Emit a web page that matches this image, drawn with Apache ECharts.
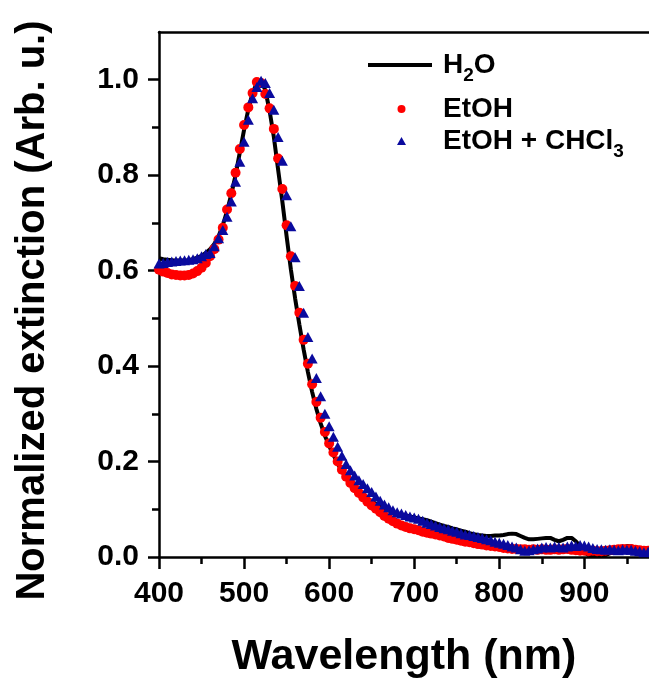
<!DOCTYPE html>
<html>
<head>
<meta charset="utf-8">
<script src="https://cdn.jsdelivr.net/npm/echarts@6/dist/echarts.min.js"></script>
<style>
html,body{margin:0;padding:0;background:#fff;}
#chart{width:649px;height:684px;}
</style>
</head>
<body>
<div id="chart"></div>
<script>
// Wavelength grid (nm)
var wavelength = [400,405,410,415,420,425,430,435,440,445,450,455,460,465,470,475,480,485,490,495,
500,505,510,515,520,525,530,535,540,545,550,555,560,565,570,575,580,585,590,595,
600,605,610,615,620,625,630,635,640,645,650,655,660,665,670,675,680,685,690,695,
700,705,710,715,720,725,730,735,740,745,750,755,760,765,770,775,780,785,790,795,
800,805,810,815,820,825,830,835,840,845,850,855,860,865,870,875,880,885,890,895,
900,905,910,915,920,925,930,935,940,945,950,955,960,965,970,975];

// H2O (black line)
var h2o = [0.626,0.624,0.623,0.622,0.621,0.621,0.621,0.622,0.624,0.627,0.631,0.637,0.645,0.656,0.672,0.695,0.725,0.760,0.800,0.848,
0.895,0.938,0.972,0.993,0.998,0.978,0.935,0.880,0.812,0.745,0.672,0.603,0.542,0.487,0.435,0.388,0.346,0.310,0.280,0.254,
0.233,0.214,0.196,0.180,0.167,0.156,0.146,0.138,0.130,0.123,0.117,0.111,0.105,0.101,0.097,0.094,0.091,0.089,0.087,0.085,
0.083,0.081,0.079,0.077,0.074,0.071,0.068,0.065,0.063,0.060,0.058,0.055,0.053,0.050,0.048,0.046,0.045,0.044,0.044,0.045,
0.045,0.046,0.048,0.049,0.048,0.044,0.040,0.037,0.037,0.038,0.039,0.040,0.040,0.036,0.033,0.036,0.040,0.040,0.033,0.023,
0.010,0.004,0.002,0.002,0.002,0.004,0.008,0.010,0.014,0.019,0.023,0.022,0.020,0.019,0.018,0.017];

// EtOH (red circles)
var etoh = [0.602,0.598,0.595,0.592,0.591,0.590,0.590,0.591,0.594,0.599,0.606,0.616,0.630,0.645,0.665,0.690,0.728,0.762,0.805,0.855,
0.905,0.942,0.972,0.995,0.993,0.970,0.940,0.897,0.835,0.771,0.695,0.630,0.568,0.512,0.455,0.405,0.362,0.325,0.292,0.262,
0.238,0.219,0.200,0.183,0.168,0.155,0.144,0.134,0.125,0.116,0.108,0.101,0.094,0.086,0.080,0.075,0.070,0.066,0.063,0.060,
0.058,0.056,0.053,0.051,0.049,0.047,0.045,0.043,0.040,0.038,0.036,0.034,0.032,0.031,0.029,0.027,0.026,0.024,0.023,0.022,
0.021,0.019,0.018,0.017,0.017,0.016,0.016,0.015,0.016,0.015,0.016,0.015,0.015,0.016,0.015,0.016,0.017,0.015,0.014,0.013,
0.013,0.012,0.013,0.012,0.012,0.013,0.014,0.015,0.016,0.017,0.016,0.017,0.015,0.014,0.013,0.013];

// EtOH + CHCl3 (blue triangles)
var etohChcl3 = [0.615,0.616,0.618,0.619,0.620,0.621,0.622,0.623,0.624,0.626,0.630,0.635,0.637,0.651,0.668,0.685,0.713,0.745,0.786,0.828,
0.870,0.916,0.961,0.985,0.998,0.993,0.972,0.937,0.880,0.830,0.758,0.693,0.628,0.568,0.512,0.461,0.416,0.375,0.337,0.300,
0.274,0.252,0.231,0.212,0.195,0.182,0.171,0.161,0.153,0.144,0.136,0.127,0.118,0.110,0.104,0.098,0.094,0.091,0.088,0.085,
0.083,0.080,0.076,0.072,0.069,0.066,0.063,0.060,0.058,0.055,0.053,0.050,0.047,0.046,0.044,0.042,0.040,0.037,0.035,0.032,
0.030,0.028,0.025,0.022,0.020,0.016,0.013,0.014,0.016,0.018,0.020,0.021,0.020,0.022,0.021,0.020,0.022,0.024,0.023,0.025,
0.024,0.022,0.019,0.017,0.016,0.015,0.016,0.015,0.014,0.016,0.015,0.015,0.013,0.012,0.010,0.011];

// Tick positions / labels
var xMajorTicks = [400,500,600,700,800,900];
var xMinorTicks = [450,550,650,750,850,950];
var yMajorTicks = [0,0.2,0.4,0.6,0.8,1.0];
var yMinorTicks = [0.1,0.3,0.5,0.7,0.9];

var seriesNames = ['H2O','EtOH','EtOH + CHCl3'];
var legendLabels = {
  'H2O': '{m|H}{s|2}{m|O}',
  'EtOH': '{m|EtOH}',
  'EtOH + CHCl3': '{m|EtOH + CHCl}{s|3}'
};

function pairs(ys){ return wavelength.map(function(x,i){ return [x, ys[i]]; }); }

var FONT = '"Liberation Sans", Arial, sans-serif';
var XMIN = 400, XMAX = 976;
var TEXT_X = 443;

var legendRich = {
  m: {fontSize: 28, fontWeight: 'bold', fontFamily: FONT, color: '#000', lineHeight: 40, verticalAlign: 'middle'},
  s: {fontSize: 19, fontWeight: 'bold', fontFamily: FONT, color: '#000', lineHeight: 19, verticalAlign: 'bottom'}
};
function mkLegend(name, icon, left, top, w, h){
  return {
    data: [{name: name, icon: icon}], left: left, top: top, orient: 'vertical',
    itemWidth: w, itemHeight: h, padding: 0, symbolKeepAspect: false,
    formatter: function(n){ return legendLabels[n]; },
    textStyle: {rich: legendRich, padding: [0,0,0, TEXT_X - (left + w + 5)]},
    selectedMode: false
  };
}

var chart = echarts.init(document.getElementById('chart'), null, {renderer: 'canvas'});
chart.setOption({
  animation: false,
  backgroundColor: '#fff',
  grid: {left: 159, top: 32, right: 0, bottom: 123, containLabel: false},
  legend: [
    mkLegend(seriesNames[0], 'rect', 368, 51, 64, 4),
    mkLegend(seriesNames[1], 'circle', 397.5, 95, 8, 8),
    mkLegend(seriesNames[2], 'triangle', 397, 127, 9, 8)
  ],
  xAxis: [
    {
      type: 'value', min: XMIN, max: XMAX, position: 'bottom',
      axisLine: {show: true, lineStyle: {color: '#000', width: 2.5}},
      axisTick: {show: true, customValues: xMajorTicks, length: 12, lineStyle: {color: '#000', width: 2.5}},
      axisLabel: {customValues: xMajorTicks, margin: 22, fontSize: 30, fontWeight: 'bold', fontFamily: FONT, color: '#000'},
      splitLine: {show: false},
      name: 'Wavelength (nm)', nameLocation: 'middle', nameGap: 79,
      nameTextStyle: {fontSize: 43, fontWeight: 'bold', fontFamily: FONT, color: '#000'}
    },
    {
      type: 'value', min: XMIN, max: XMAX, position: 'bottom',
      axisLine: {show: false},
      axisTick: {show: true, customValues: xMinorTicks, length: 7, lineStyle: {color: '#000', width: 2.5}},
      axisLabel: {show: false}, splitLine: {show: false}
    },
    {
      type: 'value', min: XMIN, max: XMAX, position: 'top',
      axisLine: {show: true, lineStyle: {color: '#000', width: 2.5}},
      axisTick: {show: false}, axisLabel: {show: false}, splitLine: {show: false}
    }
  ],
  yAxis: [
    {
      type: 'value', min: 0, max: 1.1, position: 'left',
      axisLine: {show: true, lineStyle: {color: '#000', width: 2.5}},
      axisTick: {show: true, customValues: yMajorTicks, length: 11, lineStyle: {color: '#000', width: 2.5}},
      axisLabel: {customValues: yMajorTicks, margin: 20, fontSize: 30, fontWeight: 'bold', fontFamily: FONT, color: '#000',
        formatter: function(v){ return v.toFixed(1); }},
      splitLine: {show: false},
      name: 'Normalized extinction (Arb. u.)', nameLocation: 'middle', nameGap: 106,
      nameTextStyle: {fontSize: 40, fontWeight: 'bold', fontFamily: FONT, color: '#000', padding: [0, 32, 0, 0]}
    },
    {
      type: 'value', min: 0, max: 1.1, position: 'left',
      axisLine: {show: false},
      axisTick: {show: true, customValues: yMinorTicks, length: 7, lineStyle: {color: '#000', width: 2.5}},
      axisLabel: {show: false}, splitLine: {show: false}
    }
  ],
  series: [
    {
      name: seriesNames[0], type: 'line', xAxisIndex: 0, yAxisIndex: 0,
      data: pairs(h2o), symbol: 'none', showSymbol: false, smooth: false,
      lineStyle: {color: '#000', width: 4}, itemStyle: {color: '#000'}, z: 2
    },
    {
      name: seriesNames[1], type: 'scatter', xAxisIndex: 0, yAxisIndex: 0,
      data: pairs(etoh), symbol: 'circle', symbolSize: 10,
      itemStyle: {color: '#ff0000', opacity: 1}, z: 3
    },
    {
      name: seriesNames[2], type: 'scatter', xAxisIndex: 0, yAxisIndex: 0,
      data: pairs(etohChcl3), symbol: 'triangle', symbolSize: [11, 10],
      itemStyle: {color: '#0a0a9e', opacity: 1}, z: 4
    }
  ]
});
</script>
</body>
</html>
